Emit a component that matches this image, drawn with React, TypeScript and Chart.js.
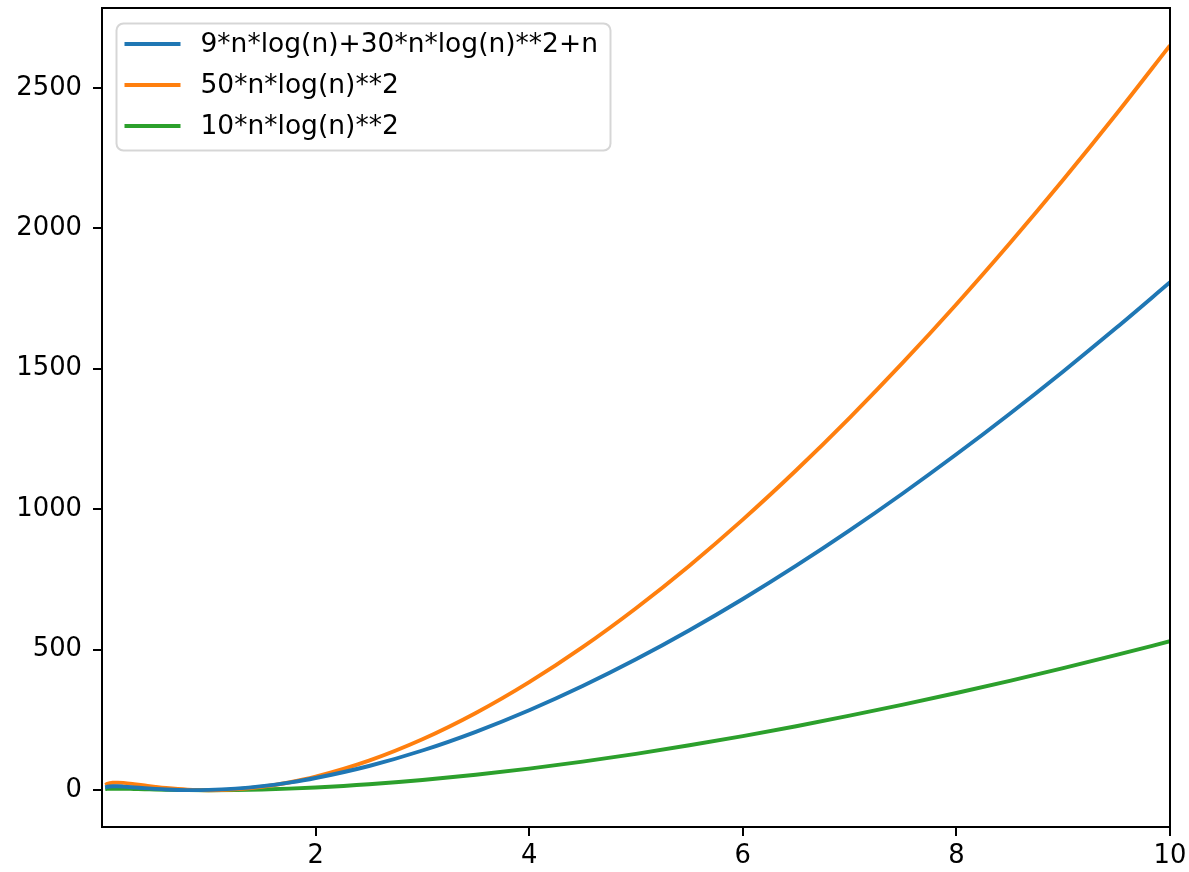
import React, { useEffect, useRef } from "react";
import { Chart, registerables } from "chart.js";

Chart.register(...registerables);

// Sample positions (n) and values
const nValues = [0.03, 0.05, 0.1, 0.15, 0.2, 0.3, 0.4, 0.5, 0.6, 0.8, 1, 1.25, 1.5, 1.75, 2, 2.5, 3, 3.5, 4, 4.5, 5, 5.5, 6, 6.5, 7, 7.5, 8, 8.5, 9, 9.5, 10];
const blueValues = [10.2, 12.2, 13.9, 13.8, 12.8, 10.1, 7.2, 4.6, 2.5, 0.4, 1.0, 5.6, 14.4, 27.0, 43.3, 86.1, 141.3, 207.8, 284.5, 370.8, 465.9, 569.4, 680.6, 799.2, 924.8, 1057.0, 1195.5, 1340.1, 1490.5, 1646.5, 1807.8];
const orangeValues = [18.4, 22.4, 26.5, 27.0, 25.9, 21.7, 16.8, 12.0, 7.8, 2.0, 0, 3.1, 12.3, 27.4, 48.0, 105.0, 181.0, 274.6, 384.4, 509.0, 647.6, 799.2, 963.1, 1138.7, 1325.3, 1522.4, 1729.6, 1946.5, 2172.5, 2407.4, 2650.9];
const greenValues = [3.7, 4.5, 5.3, 5.4, 5.2, 4.3, 3.4, 2.4, 1.6, 0.4, 0, 0.6, 2.5, 5.5, 9.6, 21.0, 36.2, 54.9, 76.9, 101.8, 129.5, 159.8, 192.6, 227.7, 265.1, 304.5, 345.9, 389.3, 434.5, 481.5, 530.2];

const seriesLabels = ["9*n*log(n)+30*n*log(n)**2+n", "50*n*log(n)**2", "10*n*log(n)**2"];
const seriesColors = ["#1f77b4", "#ff7f0e", "#2ca02c"];

const xTicks = [2, 4, 6, 8, 10];
const yTicks = [0, 500, 1000, 1500, 2000, 2500];
const xMin = 0;
const xMax = 10;
const yMin = -131;
const yMax = 2784;

const FONT = "DejaVu Sans";
const FS = 25.8;
const LEGEND_FS = 26.5;

const framePlugin = {
  id: "frameAndLegend",
  afterDraw(chart: any) {
    const { ctx, chartArea } = chart;
    ctx.save();
    // spines
    ctx.strokeStyle = "#000";
    ctx.lineWidth = 2;
    ctx.strokeRect(chartArea.left, chartArea.top, chartArea.right - chartArea.left, chartArea.bottom - chartArea.top);

    // legend
    const lx = chartArea.left + 14.5;
    const ly = chartArea.top + 15.5;
    const lw = 494;
    const lh = 127;
    ctx.beginPath();
    ctx.roundRect(lx, ly, lw, lh, 7);
    ctx.fillStyle = "rgba(255,255,255,0.8)";
    ctx.fill();
    ctx.strokeStyle = "rgba(204,204,204,0.8)";
    ctx.lineWidth = 2;
    ctx.stroke();

    ctx.font = `${LEGEND_FS}px "${FONT}"`;
    ctx.textBaseline = "middle";
    ctx.textAlign = "left";
    seriesLabels.forEach((label, i) => {
      const y = ly + 20.5 + i * 41;
      ctx.beginPath();
      ctx.moveTo(lx + 8, y);
      ctx.lineTo(lx + 64, y);
      ctx.strokeStyle = seriesColors[i];
      ctx.lineWidth = 3.9;
      ctx.stroke();
      ctx.fillStyle = "#000";
      ctx.fillText(label, lx + 84, y + 1);
    });
    ctx.restore();
  },
};

export default function App() {
  const ref = useRef<HTMLCanvasElement>(null);

  useEffect(() => {
    document.body.style.margin = "0";
    const canvas = ref.current!;
    const mk = (vals: number[]) => nValues.map((x, i) => ({ x, y: vals[i] }));
    const chart = new Chart(canvas, {
      type: "line",
      data: {
        datasets: [blueValues, orangeValues, greenValues].map((vals, i) => ({
          label: seriesLabels[i],
          data: mk(vals),
          borderColor: seriesColors[i],
          backgroundColor: seriesColors[i],
          borderWidth: 3.9,
          pointRadius: 0,
          cubicInterpolationMode: "monotone" as const,
          fill: false,
        })),
      },
      options: {
        animation: false,
        responsive: false,
        maintainAspectRatio: false,
        layout: { padding: { left: 0, right: 19, top: 8, bottom: 0 } },
        plugins: { legend: { display: false }, tooltip: { enabled: false } },
        scales: {
          x: {
            type: "linear",
            min: xMin,
            max: xMax,
            afterBuildTicks: (scale: any) => {
              scale.ticks = xTicks.map((v) => ({ value: v }));
            },
            afterFit: (scale: any) => {
              scale.height = 45;
              scale.paddingLeft = 0;
              scale.paddingRight = 0;
            },
            grid: { display: true, drawOnChartArea: false, drawTicks: true, tickLength: 9, color: "#000", lineWidth: 2 },
            border: { display: false },
            ticks: {
              autoSkip: false,
              maxRotation: 0,
              padding: 5,
              color: "#000",
              font: { family: FONT, size: FS },
              callback: (v: any) => String(v),
            },
          },
          y: {
            type: "linear",
            min: yMin,
            max: yMax,
            afterBuildTicks: (scale: any) => {
              scale.ticks = yTicks.map((v) => ({ value: v }));
            },
            afterFit: (scale: any) => {
              scale.width = 102;
              scale.paddingTop = 0;
              scale.paddingBottom = 0;
            },
            grid: { display: true, drawOnChartArea: false, drawTicks: true, tickLength: 9, color: "#000", lineWidth: 2 },
            border: { display: false },
            ticks: {
              autoSkip: false,
              padding: 11,
              color: "#000",
              font: { family: FONT, size: FS },
              callback: (v: any) => String(v),
            },
          },
        },
      },
      plugins: [framePlugin],
    });
    return () => chart.destroy();
  }, []);

  return (
    <div style={{ position: "absolute", left: 0, top: 0, width: 1189, height: 872, background: "#fff" }}>
      <canvas ref={ref} width={1189} height={872} style={{ display: "block" }} />
    </div>
  );
}
